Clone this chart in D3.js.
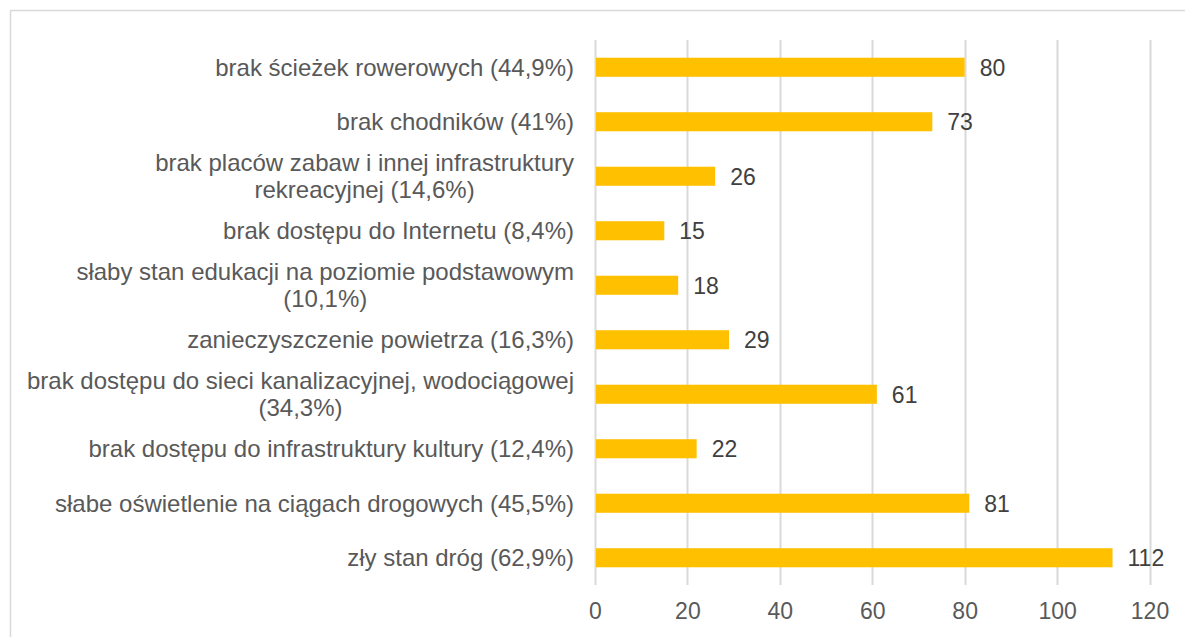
<!DOCTYPE html>
<html>
<head>
<meta charset="utf-8">
<script src="https://cdn.jsdelivr.net/npm/d3@7"></script>
<style>
  body { margin: 0; background: #fff; }
  text { font-family: "Liberation Sans", Arial, sans-serif; }
</style>
</head>
<body>
<div id="chart"></div>
<script>
// categories (top to bottom), each as lines of text
var categories = [
    ["brak ścieżek rowerowych (44,9%)"],
    ["brak chodników (41%)"],
    ["brak placów zabaw i innej infrastruktury", "rekreacyjnej (14,6%)"],
    ["brak dostępu do Internetu (8,4%)"],
    ["słaby stan edukacji na poziomie podstawowym", "(10,1%)"],
    ["zanieczyszczenie powietrza (16,3%)"],
    ["brak dostępu do sieci kanalizacyjnej, wodociągowej", "(34,3%)"],
    ["brak dostępu do infrastruktury kultury (12,4%)"],
    ["słabe oświetlenie na ciągach drogowych (45,5%)"],
    ["zły stan dróg (62,9%)"]
];
var values = [80, 73, 26, 15, 18, 29, 61, 22, 81, 112];
var xTicks = [0, 20, 40, 60, 80, 100, 120];

var W = 1185, H = 637;
var margin = {top: 40, right: 35, bottom: 52, left: 595};
var width = 1149.5 - margin.left;
var height = H - margin.top - margin.bottom;

var svg = d3.select("#chart")
    .append("svg")
    .attr("width", W)
    .attr("height", H);

// outer frame
svg.append("rect")
    .attr("x", 10.5)
    .attr("y", 10.5)
    .attr("width", W + 20)
    .attr("height", H + 20)
    .attr("fill", "none")
    .attr("stroke", "#d9d9d9")
    .attr("stroke-width", 1.5);

var g = svg.append("g")
    .attr("transform", "translate(" + margin.left + "," + margin.top + ")");

var x = d3.scaleLinear()
    .domain([0, 120])
    .range([0, width]);

var y = d3.scaleBand()
    .domain(d3.range(categories.length))
    .range([0, height])
    .paddingInner(0.65)
    .paddingOuter(0.325);

// gridlines
g.selectAll(".grid")
    .data(xTicks)
    .enter()
    .append("line")
    .attr("x1", function(d) { return Math.round(x(d)) + 0.5; })
    .attr("x2", function(d) { return Math.round(x(d)) + 0.5; })
    .attr("y1", 0)
    .attr("y2", height)
    .attr("stroke", "#d9d9d9")
    .attr("stroke-width", 2);

// x axis
var xAxis = g.append("g")
    .attr("transform", "translate(0," + height + ")")
    .call(d3.axisBottom(x).tickValues(xTicks).tickSize(0).tickPadding(18));
xAxis.select(".domain").remove();
xAxis.selectAll("text")
    .attr("fill", "#595959")
    .style("font-size", "23px")
    .style("font-family", "'Liberation Sans', Arial, sans-serif");

// bars
g.selectAll(".bar")
    .data(values)
    .enter()
    .append("rect")
    .attr("x", x(0) + 1)
    .attr("y", function(d, i) { return y(i); })
    .attr("width", function(d) { return x(d) - x(0) - 1; })
    .attr("height", y.bandwidth())
    .attr("fill", "#ffc000");

// value labels
g.selectAll(".val")
    .data(values)
    .enter()
    .append("text")
    .attr("x", function(d) { return x(d) + 15; })
    .attr("y", function(d, i) { return y(i) + y.bandwidth() / 2; })
    .attr("dy", "0.36em")
    .attr("fill", "#404040")
    .style("font-size", "23px")
    .text(function(d) { return d; });

// category labels, multi-line blocks centered, right-aligned to axis
var lineH = 27;
var labels = g.selectAll(".cat")
    .data(categories)
    .enter()
    .append("text")
    .attr("fill", "#595959")
    .style("font-size", "24px")
    .attr("text-anchor", "middle");

labels.each(function(lines, i) {
    var t = d3.select(this);
    var cy = y(i) + y.bandwidth() / 2;
    var spans = lines.map(function(s, k) {
        return t.append("tspan")
            .attr("y", cy + (k - (lines.length - 1) / 2) * lineH)
            .attr("dy", "0.36em")
            .text(s);
    });
    var maxW = d3.max(spans, function(s) { return s.node().getComputedTextLength(); });
    var cx = -21 - maxW / 2;
    spans.forEach(function(s) { s.attr("x", cx); });
});
</script>
</body>
</html>
